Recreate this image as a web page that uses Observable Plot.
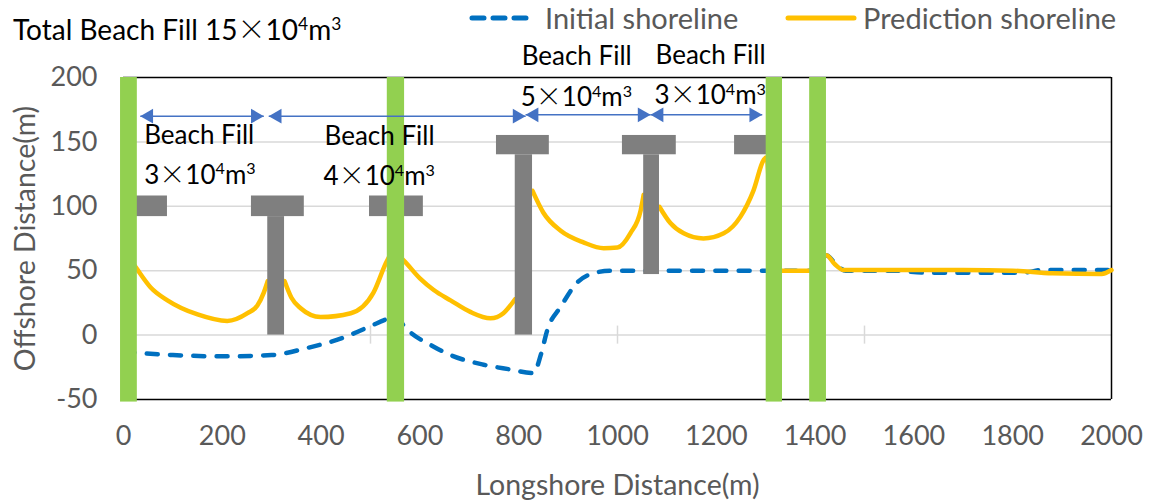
<!DOCTYPE html>
<html><head><meta charset="utf-8">
<script src="https://cdn.jsdelivr.net/npm/d3@7"></script>
<script src="https://cdn.jsdelivr.net/npm/@observablehq/plot@0.6"></script>
<style>
body{margin:0;background:#fff;font-family:Lato,sans-serif;}
#wrap{position:relative;width:1151px;height:504px;}
#title{position:absolute;left:13px;top:12px;font-size:28px;line-height:32px;color:#000;white-space:nowrap;}
.leg{position:absolute;top:2px;font-size:29px;line-height:32px;color:#595959;display:flex;align-items:center;white-space:nowrap;}
.x{font-family:"Noto Sans CJK JP";font-weight:300;}
sup{font-size:0.62em;line-height:0;vertical-align:0.55em;}
</style></head><body>
<div id="wrap"><div id="chart"></div>
<div id="title">Total Beach Fill 15<span class="x">×</span>10<sup>4</sup>m<sup>3</sup></div>
<div class="leg" style="left:468px"><svg width="66" height="10"><line x1="4" y1="5" x2="62" y2="5" stroke="#0070C0" stroke-width="5" stroke-dasharray="12,9" stroke-linecap="round"/></svg><span style="margin-left:11px">Initial shoreline</span></div>
<div class="leg" style="left:785px"><svg width="72" height="10"><line x1="3" y1="5" x2="69" y2="5" stroke="#FFC000" stroke-width="5" stroke-linecap="round"/></svg><span style="margin-left:6px">Prediction shoreline</span></div>
</div>
<script>
const xTicks = d3.range(0, 2001, 200);
const yTicks = [-50, 0, 50, 100, 150, 200];
const gridY = [0, 50, 100, 150];
const crossTicksX = [500, 1000, 1500];

// Initial shoreline
const initialX = [0, 100, 200, 300, 372, 445, 500, 530, 550, 570, 628, 662, 729, 780, 830, 845, 858, 885, 919, 951, 986, 1200, 1400, 1423, 1440, 1462, 1560, 1620, 1820, 1860, 2000];
const initialY = [-13, -15.5, -16.5, -15.5, -10, -2, 7, 12, 15, 6, -9, -15.5, -23, -26.5, -29.5, -15, 4, 22, 41, 48, 50, 50, 50, 62, 56, 50, 50, 48.5, 48.5, 50.5, 50.5];

// Prediction shoreline, in segments between structures
const predSeg = [1,1,1,1,1,1,1,1,1,1, 2,2,2,2,2,2,2,2,2,2,2,2,2,2,2,2, 3,3,3,3,3,3,3,3,3, 4,4,4,4,4,4,4,4,4,4,4,4,4,4,4,4,4,4,4,4];
const predX = [15, 26, 55, 89, 150, 210, 251, 271, 284, 292,
  326, 340, 358, 399, 460, 506, 534, 546, 567, 600, 628, 662, 702, 743, 769, 793,
  828, 850, 885, 931, 972, 1000, 1026, 1047, 1053,
  1085, 1107, 1134, 1174, 1215, 1249, 1275, 1296, 1302, 1315, 1400, 1423, 1440, 1458, 1700, 1800, 1880, 1980, 2000];
const predY = [58, 52, 37, 27, 16, 11, 17, 23, 33, 42,
  42, 29, 21, 14, 17, 33, 58, 65, 58, 44, 35, 27, 18, 13, 17, 28,
  112, 95, 81, 72, 67.5, 68, 79, 97, 109,
  99.5, 87, 79, 75, 79, 92, 112, 136, 138, 50, 50, 62, 55, 50.5, 50.5, 50, 48, 47.5, 50.5];

// Groins (green)
const groinX1 = [-6, 534, 1301, 1389];
const groinX2 = [28, 569, 1334, 1423];
const groinBottom = -52, groinTop = 200;

// T-head structures (grey)
const structX1 = [20, 259, 292, 498, 755, 793, 1010, 1053, 1237];
const structX2 = [89, 366, 326, 607, 862, 828, 1119, 1085, 1310];
const structY1 = [92, 92, 0, 92, 140, 0, 140, 47, 140];
const structY2 = [108, 108, 92, 108, 155, 140, 155, 140, 155];

// Beach-fill extent arrows
const arrowX1 = [34, 294, 814, 1067];
const arrowX2 = [284, 814, 1067, 1293];
const arrowY = [170, 170, 171, 171];

// Annotations
const labelText = ["Beach Fill", "3×10⁴m³", "Beach Fill", "4×10⁴m³", "Beach Fill", "5×10⁴m³", "Beach Fill", "3×10⁴m³"];
const labelX = [42, 42, 407, 405, 806, 804, 1077, 1075];
const labelY = [155, 124, 154, 123, 216, 184, 217, 186];

const initial = initialX.map((x, i) => ({x, y: initialY[i]}));
const pred = predX.map((x, i) => ({x, y: predY[i], seg: predSeg[i]}));
const groins = groinX1.map((x1, i) => ({x1, x2: groinX2[i]}));
const structs = structX1.map((x1, i) => ({x1, x2: structX2[i], y1: structY1[i], y2: structY2[i]}));
const arrows = arrowX1.map((x1, i) => ({x1, x2: arrowX2[i], y: arrowY[i]}));
const labels = labelText.map((t, i) => ({t, x: labelX[i], y: labelY[i]}));

const grey = "#595959";
const labelSize = 26;
const chart = Plot.plot({
  width: 1151, height: 504,
  marginLeft: 123, marginRight: 40, marginTop: 77, marginBottom: 105,
  x: {domain: [0, 2000]},
  y: {domain: [-50, 200]},
  style: {fontFamily: "Lato, sans-serif", fontSize: "26px", background: "#fff", overflow: "visible"},
  marks: [
    Plot.ruleY(gridY, {stroke: "#D9D9D9", strokeWidth: 1.5}),
    Plot.ruleX(crossTicksX, {y1: -7, y2: 7, stroke: "#D9D9D9", strokeWidth: 1.5}),
    Plot.ruleY([200, -50], {stroke: "#000", strokeWidth: 1.5}),
    Plot.ruleX([2000], {stroke: "#000", strokeWidth: 1.5}),
    Plot.line(initial, {x: "x", y: "y", stroke: "#0070C0", strokeWidth: 4.5, strokeDasharray: "11,12.3", strokeLinecap: "round", curve: "monotone-x"}),
    Plot.line(pred, {x: "x", y: "y", z: "seg", stroke: "#FFC000", strokeWidth: 4.5, curve: "monotone-x"}),
    Plot.rect(structs, {x1: "x1", x2: "x2", y1: "y1", y2: "y2", fill: "#7F7F7F"}),
    Plot.rect(groins, {x1: "x1", x2: "x2", y1: groinBottom, y2: groinTop, fill: "#92D050"}),
    Plot.link(arrows, {x1: "x1", x2: "x2", y1: "y", y2: "y", stroke: "#4472C4", strokeWidth: 1.5}),
    Plot.dot(arrows, {x: "x1", y: "y", symbol: "triangle", r: 5.5, rotate: -90, dx: 8.5, fill: "#4472C4", stroke: "none"}),
    Plot.dot(arrows, {x: "x2", y: "y", symbol: "triangle", r: 5.5, rotate: 90, dx: -8.5, fill: "#4472C4", stroke: "none"}),
    Plot.text(labels, {x: "x", y: "y", text: "t", textAnchor: "start", fontSize: labelSize, fill: "#000"}),
    Plot.axisY(yTicks, {tickSize: 0, tickPadding: 26, fontSize: 27, fill: grey, label: null, tickFormat: d => String(d)}),
    Plot.axisX(xTicks, {tickSize: 0, tickPadding: 26, fontSize: 27, fill: grey, label: null, tickFormat: d => String(d)}),
    Plot.text(["Offshore Distance(m)"], {frameAnchor: "left", textAnchor: "middle", lineAnchor: "middle", rotate: -90, dx: -98, fontSize: 28.5, fill: grey}),
    Plot.text(["Longshore Distance(m)"], {frameAnchor: "bottom", textAnchor: "middle", lineAnchor: "middle", dy: 86, fontSize: 28.5, fill: grey})
  ]
});

// Render "×" in a CJK face and ⁴ ³ as true superscripts
const NS = "http://www.w3.org/2000/svg";
const supMap = {"⁴": "4", "³": "3"};
chart.querySelectorAll("text").forEach(el => {
  const s = el.textContent;
  if (!/[×⁴³]/.test(s)) return;
  const size = labelSize;
  el.textContent = "";
  let raised = false;
  for (const ch of s) {
    const t = document.createElementNS(NS, "tspan");
    if (supMap[ch]) {
      t.textContent = supMap[ch];
      t.setAttribute("font-size", size * 0.62);
      if (!raised) { t.setAttribute("dy", -size * 0.36); raised = true; }
    } else {
      t.textContent = ch;
      if (raised) { t.setAttribute("dy", size * 0.36); raised = false; }
      if (ch === "×") { t.setAttribute("font-family", "Noto Sans CJK JP"); t.setAttribute("font-weight", "300"); }
    }
    el.appendChild(t);
  }
});
document.getElementById("chart").appendChild(chart);
</script>
</body></html>
